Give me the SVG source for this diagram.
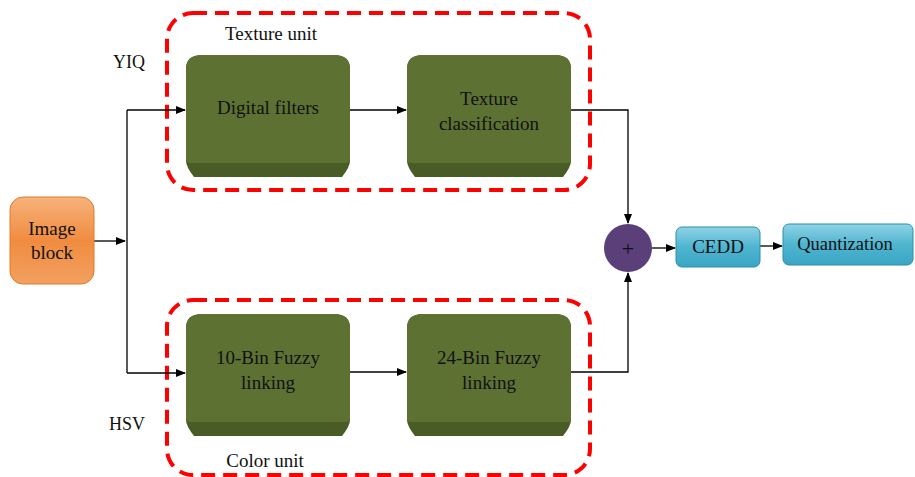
<svg xmlns="http://www.w3.org/2000/svg" width="915" height="477" viewBox="0 0 915 477">
<defs>
<linearGradient id="og" x1="0" y1="0" x2="0" y2="1">
<stop offset="0" stop-color="#f7b27c"/><stop offset="0.5" stop-color="#f08c40"/><stop offset="1" stop-color="#f3a060"/>
</linearGradient>
<linearGradient id="cg" x1="0" y1="0" x2="0" y2="1">
<stop offset="0" stop-color="#8fd3e6"/><stop offset="0.5" stop-color="#4fb5d0"/><stop offset="1" stop-color="#3aa5c4"/>
</linearGradient>
<marker id="ah" markerWidth="10" markerHeight="8" refX="9" refY="4" orient="auto" markerUnits="userSpaceOnUse">
<path d="M0,0 L10,4 L0,8 Z" fill="#000"/>
</marker>
<g id="gbox">
<path d="M0,14 Q0,0 16,0 L148,0 Q164,0 164,14 L164,106 Q164,112 156,122 L8,122 Q0,112 0,106 Z" fill="#4a5c26"/>
<path d="M0,14 Q0,0 16,0 L148,0 Q164,0 164,14 L164,104 Q164,108 160,108 L4,108 Q0,108 0,104 Z" fill="#5d7232"/>
</g>
</defs>
<style>
.t{font-family:"Liberation Serif","Times New Roman",serif;fill:#111;text-anchor:middle}
.c{fill:none;stroke:#000;stroke-width:1.3}
.d{fill:none;stroke:#f00;stroke-width:4;stroke-dasharray:14 8}
</style>
<rect width="915" height="477" fill="#fff"/>
<g id="units">
<rect class="d" x="167" y="13" width="423" height="177" rx="26"/>
<rect class="d" x="167" y="300" width="423" height="175" rx="26"/>
<text class="t" x="271" y="40" font-size="19">Texture unit</text>
<text class="t" x="265" y="467" font-size="19">Color unit</text>
<text class="t" x="129" y="68" font-size="18">YIQ</text>
<text class="t" x="127" y="430" font-size="18">HSV</text>
</g>
<g id="connectors">
<path class="c" d="M94,241 H125" marker-end="url(#ah)"/>
<path class="c" d="M127,110 V373"/>
<path class="c" d="M127,110 H185" marker-end="url(#ah)"/>
<path class="c" d="M127,373 H185" marker-end="url(#ah)"/>
<path class="c" d="M350,110 H406" marker-end="url(#ah)"/>
<path class="c" d="M350,372 H406" marker-end="url(#ah)"/>
<path class="c" d="M571,110 H628 V223" marker-end="url(#ah)"/>
<path class="c" d="M571,372 H628 V273" marker-end="url(#ah)"/>
<path class="c" d="M652,248 H675" marker-end="url(#ah)"/>
<path class="c" d="M760,246 H782" marker-end="url(#ah)"/>
</g>
<g id="image-block">
<rect x="10" y="197" width="84" height="87" rx="13" fill="url(#og)" stroke="#e07a2c" stroke-width="1"/>
<text class="t" x="52" y="235" font-size="19">Image</text>
<text class="t" x="52" y="259" font-size="19">block</text>
</g>
<g id="digital-filters">
<use href="#gbox" x="186" y="55"/>
<text class="t" x="268" y="114" font-size="19">Digital filters</text>
</g>
<g id="texture-classification">
<use href="#gbox" x="407" y="55"/>
<text class="t" x="489" y="105" font-size="19">Texture</text>
<text class="t" x="489" y="130" font-size="19">classification</text>
</g>
<g id="fuzzy10">
<use href="#gbox" x="186" y="314"/>
<text class="t" x="268" y="364" font-size="19">10-Bin Fuzzy</text>
<text class="t" x="268" y="389" font-size="19">linking</text>
</g>
<g id="fuzzy24">
<use href="#gbox" x="407" y="314"/>
<text class="t" x="489" y="364" font-size="19">24-Bin Fuzzy</text>
<text class="t" x="489" y="389" font-size="19">linking</text>
</g>
<g id="sum">
<circle cx="628" cy="248" r="24" fill="#5b3f78"/>
<text class="t" x="628" y="256" font-size="22">+</text>
</g>
<g id="cedd">
<rect x="676" y="227" width="84" height="40" rx="6" fill="url(#cg)" stroke="#2b8fae" stroke-width="1"/>
<text class="t" x="718" y="253" font-size="19">CEDD</text>
</g>
<g id="quantization">
<rect x="783" y="224" width="130" height="41" rx="6" fill="url(#cg)" stroke="#2b8fae" stroke-width="1"/>
<text class="t" x="845" y="250" font-size="18.5">Quantization</text>
</g>
</svg>
